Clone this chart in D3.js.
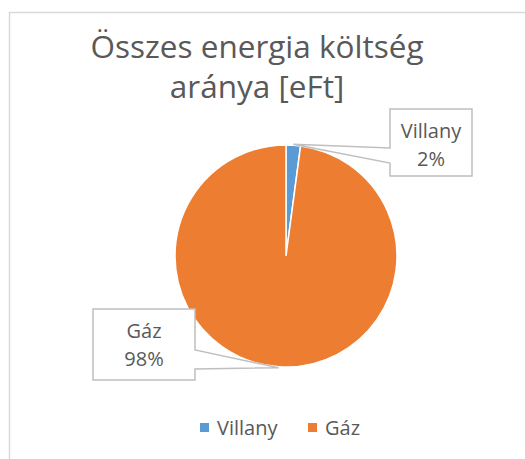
<!DOCTYPE html>
<html>
<head>
<meta charset="utf-8">
<script src="https://cdn.jsdelivr.net/npm/d3@7"></script>
<style>
  body { margin: 0; background: #fff; }
  text { font-family: "Open Sans", "Noto Sans", sans-serif; fill: #595959; }
</style>
</head>
<body>
<div id="chart"></div>
<script>
// adatok
var categories = ["Villany", "Gáz"];
var values = [2.1, 97.9];
var colors = ["#5B9BD5", "#ED7D31"];
var titleLines = ["Összes energia költség", "aránya [eFt]"];

var width = 525, height = 459;
var cx = 286, cy = 256, r = 111;

var svg = d3.select("#chart").append("svg")
    .attr("width", width)
    .attr("height", height);

// keret
svg.append("rect")
    .attr("x", 9.5).attr("y", 12.5)
    .attr("width", 600).attr("height", 600)
    .style("fill", "#fff")
    .style("stroke", "#D9D9D9")
    .style("stroke-width", 1.5);

// cím
svg.selectAll(".title")
    .data(titleLines)
    .enter().append("text")
    .attr("class", "title")
    .attr("x", 257)
    .attr("y", function (d, i) { return 58 + i * 40; })
    .style("text-anchor", "middle")
    .style("font-size", "31.5px")
    .text(function (d) { return d; });

var data = categories.map(function (c, i) { return { name: c, value: values[i], color: colors[i] }; });
var total = d3.sum(values);

var pie = d3.pie().sort(null).value(function (d) { return d.value; });
var arc = d3.arc().innerRadius(0).outerRadius(r);
var arcs = pie(data);

var g = svg.append("g").attr("transform", "translate(" + cx + "," + cy + ")");
g.selectAll("path")
    .data(arcs)
    .enter().append("path")
    .attr("d", arc)
    .style("fill", function (d) { return d.data.color; })
    .style("stroke", "#fff")
    .style("stroke-width", 1.5);

// címkék (dobozok pozíciója)
var boxes = [
    { x0: 390, y0: 109, x1: 472, y1: 176, side: "left", a: 148, b: 163 },
    { x0: 93, y0: 309, x1: 195, y1: 380, side: "right", a: 350, b: 369 }
];

function tip(d) {
    var m = (d.startAngle + d.endAngle) / 2;
    return [cx + Math.sin(m) * (r + 1), cy - Math.cos(m) * (r + 1)];
}

arcs.forEach(function (d, i) {
    var b = boxes[i], p = tip(d), path;
    if (b.side === "left") {
        path = "M" + b.x0 + "," + b.y0 + "H" + b.x1 + "V" + b.y1 + "H" + b.x0 +
            "V" + b.b + "L" + p[0] + "," + p[1] + "L" + b.x0 + "," + b.a + "Z";
    } else {
        path = "M" + b.x0 + "," + b.y0 + "H" + b.x1 + "V" + b.a +
            "L" + p[0] + "," + p[1] + "L" + b.x1 + "," + b.b + "V" + b.y1 + "H" + b.x0 + "Z";
    }
    svg.append("path")
        .attr("d", path)
        .style("fill", "#fff")
        .style("stroke", "#BFBFBF")
        .style("stroke-width", 1.5);

    var tx = (b.x0 + b.x1) / 2;
    var pct = Math.round(d.data.value / total * 100) + "%";
    svg.append("text")
        .attr("x", tx).attr("y", b.y0 + 29)
        .style("text-anchor", "middle")
        .style("font-size", "20px")
        .text(d.data.name);
    svg.append("text")
        .attr("x", tx).attr("y", b.y0 + 57)
        .style("text-anchor", "middle")
        .style("font-size", "20px")
        .text(pct);
});

// jelmagyarázat
var legendX = [200, 308];
var legend = svg.selectAll(".legend")
    .data(data)
    .enter().append("g")
    .attr("class", "legend")
    .attr("transform", function (d, i) { return "translate(" + legendX[i] + ",423)"; });

legend.append("rect")
    .attr("width", 9).attr("height", 9)
    .style("fill", function (d) { return d.color; });

legend.append("text")
    .attr("x", 17).attr("y", 12)
    .style("font-size", "20px")
    .text(function (d) { return d.name; });
</script>
</body>
</html>
